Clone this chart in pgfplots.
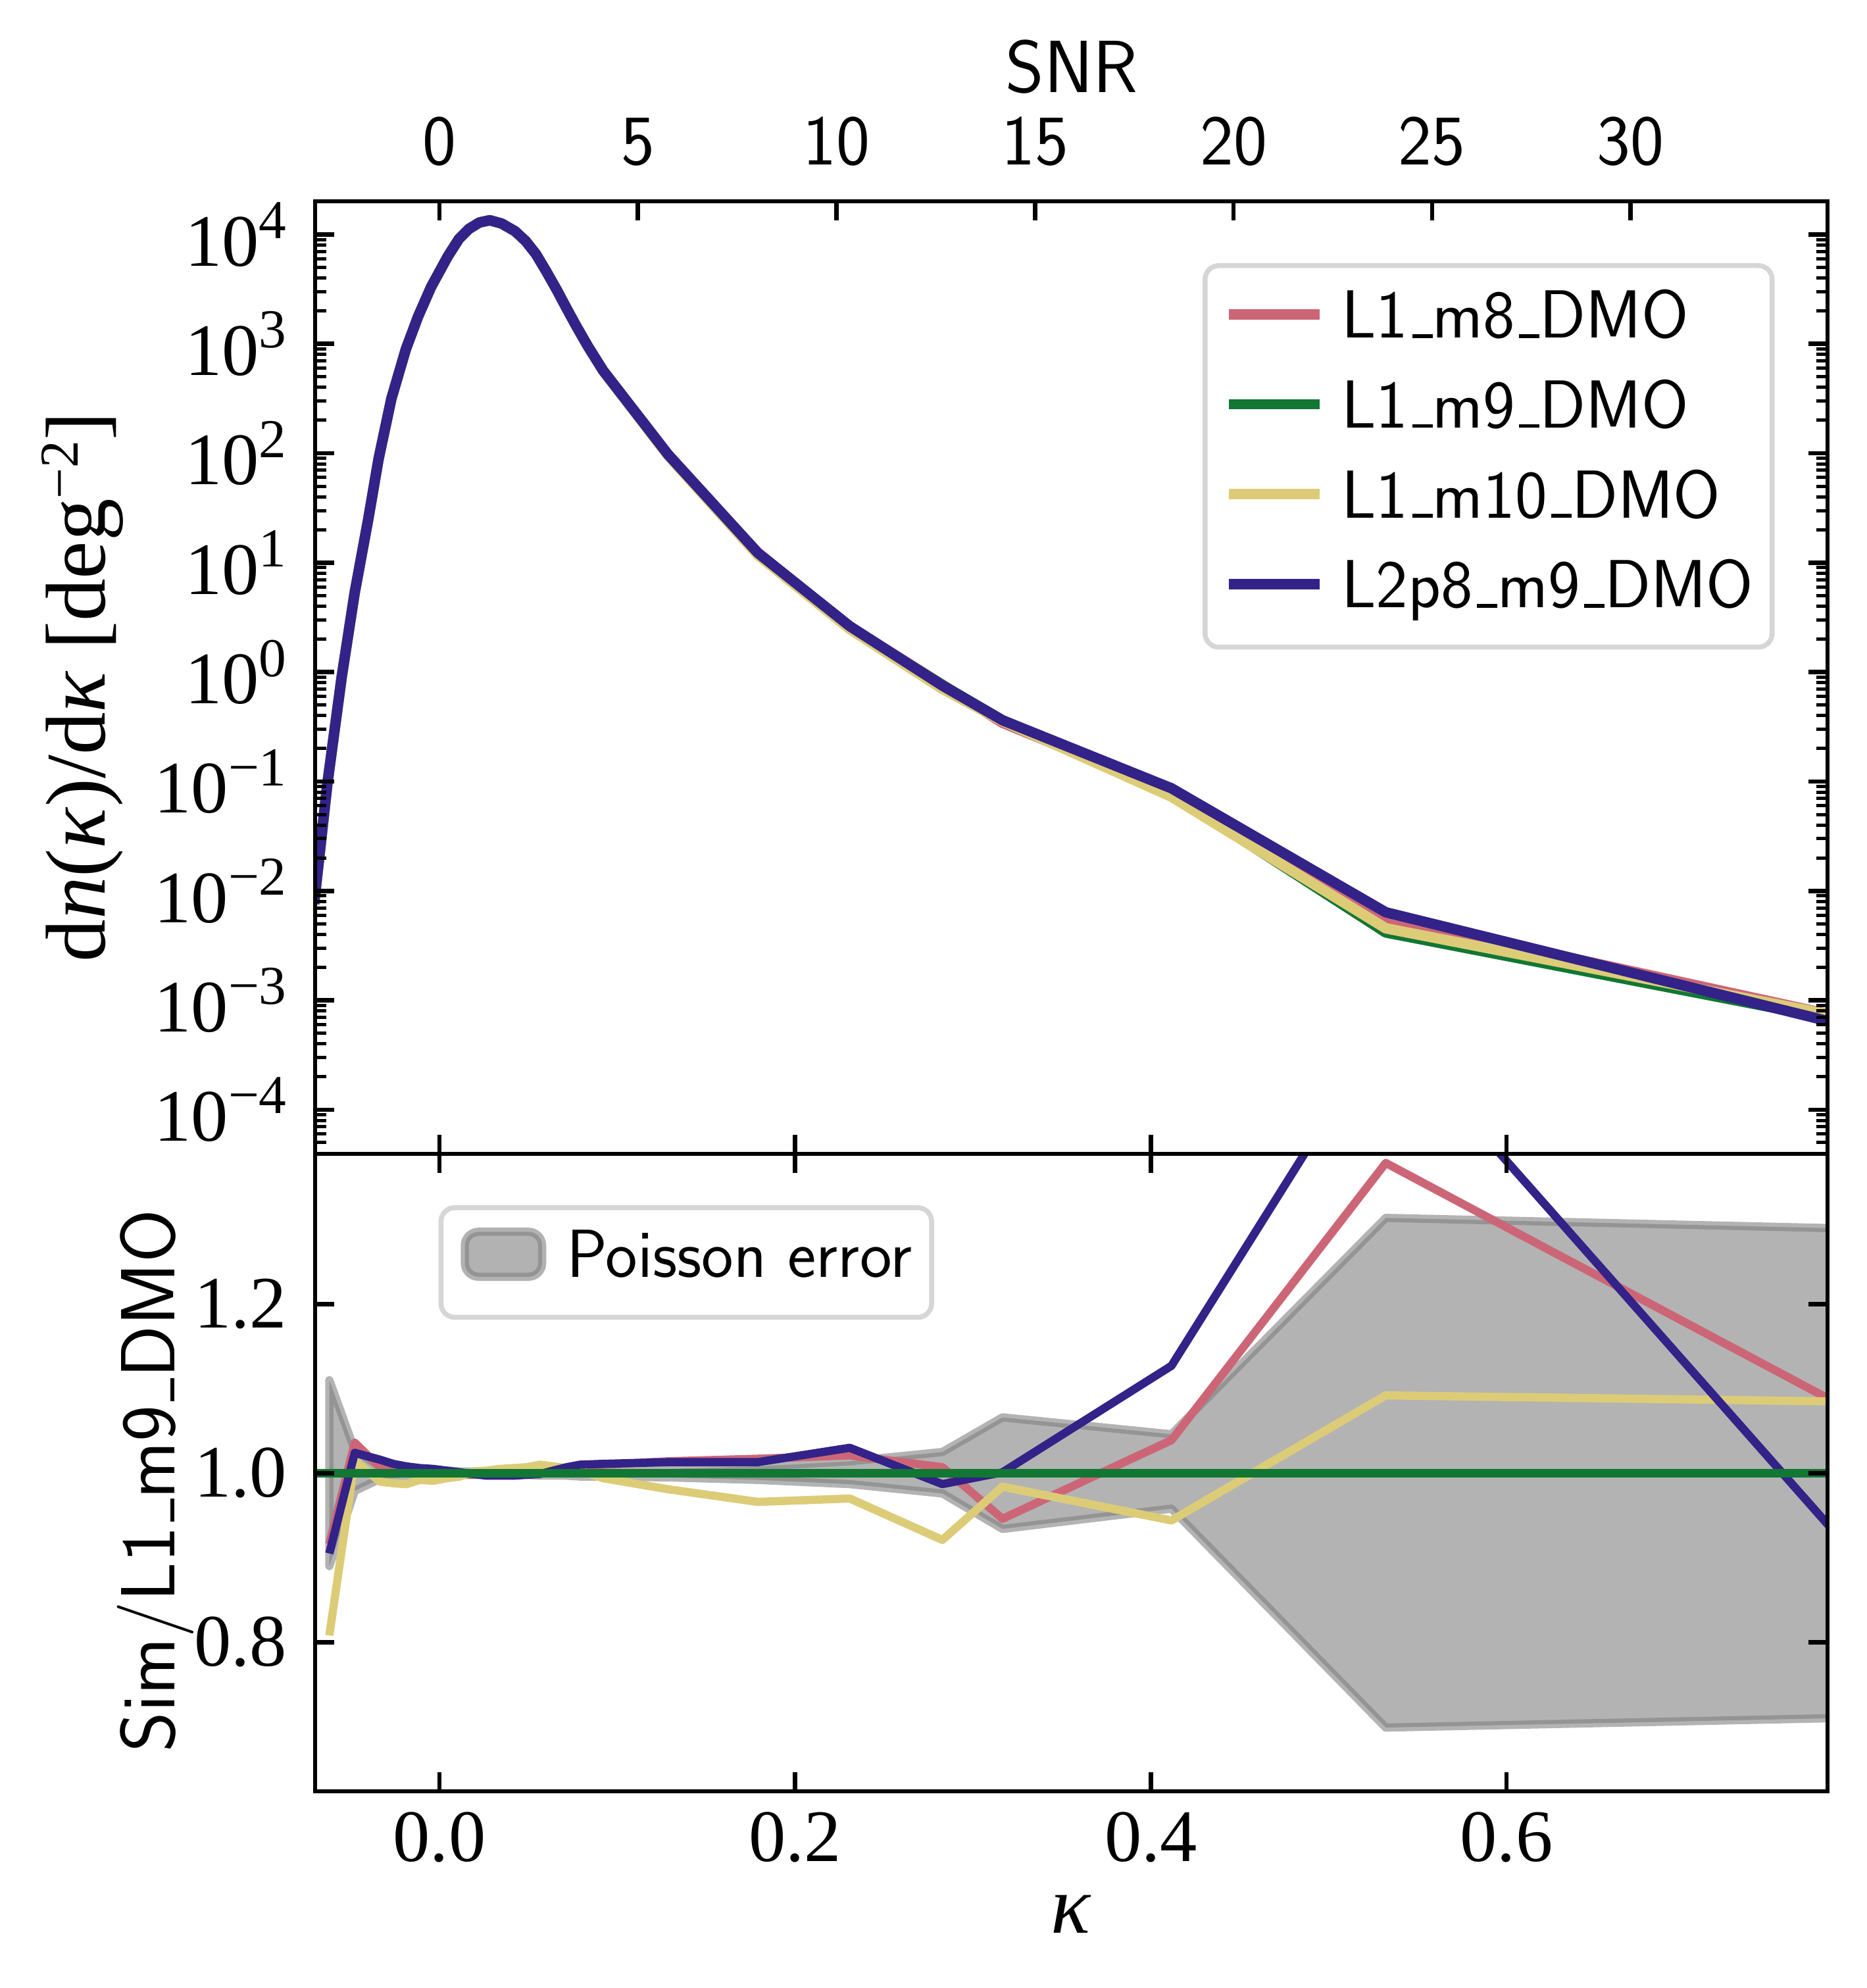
\documentclass[border=0pt]{standalone}
\usepackage{fontspec}
\setmainfont{Liberation Serif}
\setsansfont{lmsans17-regular.otf}
\usepackage{pgfplots}
\pgfplotsset{compat=1.18}
\definecolor{cRed}{HTML}{CC6677}
\definecolor{cGreen}{HTML}{117733}
\definecolor{cYellow}{HTML}{DDCC77}
\definecolor{cBlue}{HTML}{332288}
\newcommand\sups[1]{\raisebox{5pt}{\fontsize{10}{10}\selectfont #1}}
\newcommand\us{\leavevmode\kern.06em\vbox{\hrule width.3em height 0.7pt}}
\newcommand\tickfont{\fontsize{13.5}{14}\selectfont}
\pgfplotsset{
  base/.style={
    scale only axis, width=275.88pt, anchor=south west,
    xmin=-0.0699, xmax=0.7805, axis on top,
    tick align=inside, major tick length=3.5pt, minor tick length=2pt,
    every tick/.style={black, line width=0.8pt},
    every minor tick/.append style={line width=0.6pt},
    axis line style={line width=0.8pt},
    xtick={0,0.2,0.4,0.6},
    yticklabel style={font=\tickfont, anchor=east, inner sep=0pt, xshift=-5pt},
    xticklabel style={font=\tickfont, anchor=north, inner sep=0pt, yshift=-3.6pt},
    every axis plot/.append style={line join=round},
    legend cell align=left,
  },
  legbox/.style={
    draw=black!16, line width=0.9pt, rounded corners=2.5pt, fill=white,
  },
  bandlegend/.style={legend image code/.code={\draw[##1] (0.75pt,-2.6pt) rectangle (14.85pt,5.6pt); \path (18.6pt,0pt);}},
  linelegend/.style={legend image code/.code={\draw[##1] (0pt,1.3pt) -- (16.5pt,1.3pt); \path (19.6pt,0pt);}},
}
\begin{document}
\begin{tikzpicture}
\useasboundingbox (0,0) rectangle (340.56pt,362.64pt);
% ---------------- top panel ----------------
\begin{axis}[base, at={(57.48pt,152.16pt)}, height=173.76pt,
  ymode=log, ymin=3.95e-5, ymax=2.01e4,
  xtick pos=left, xticklabels={,,,},
  ytick pos=both, yticklabel pos=left,
  ytick={1e-4,1e-3,1e-2,1e-1,1,10,100,1000,10000},
  yticklabels={10\sups{−4},10\sups{−3},10\sups{−2},10\sups{−1},10\sups{0},10\sups{1},10\sups{2},10\sups{3},10\sups{4}},
  minor ytick={5e-5,6e-5,7e-5,8e-5,9e-5,2e-4,3e-4,4e-4,5e-4,6e-4,7e-4,8e-4,9e-4,2e-3,3e-3,4e-3,5e-3,6e-3,7e-3,8e-3,9e-3,0.02,0.03,0.04,0.05,0.06,0.07,0.08,0.09,0.2,0.3,0.4,0.5,0.6,0.7,0.8,0.9,2,3,4,5,6,7,8,9,20,30,40,50,60,70,80,90,200,300,400,500,600,700,800,900,2000,3000,4000,5000,6000,7000,8000,9000},
  ylabel={d\textit{n}(\textit{κ})/d\textit{κ} [deg\sups{−2}]},
  ylabel style={at={(axis description cs:-0.1388,0.49)}, anchor=base, font=\fontsize{15.5}{16}\selectfont},
  legend style={legbox, at={(axis description cs:0.5868,0.9351)}, anchor=north west,
    inner xsep=3.4pt, inner ysep=4.6pt, row sep=5.2pt,
    nodes={inner sep=0pt, text height=8.6pt, text depth=2.6pt},
    font=\sffamily\fontsize{12.4}{12.4}\selectfont},
  linelegend,
]
\addplot[cRed, line width=1.9pt] coordinates {
(-0.0705,7.6e-3) (-0.0630,0.0955) (-0.0550,0.891) (-0.0477,5.25) (-0.0400,25.1) (-0.0342,89.1) (-0.0270,316) (-0.0189,891) (-0.0120,1778) (-0.0047,3311) (0.0047,6310) (0.0110,9120) (0.0165,11220) (0.0225,12880) (0.0283,13490) (0.0350,12590) (0.0425,10720) (0.0485,8710) (0.0543,6607) (0.0600,4624) (0.0661,3090) (0.0715,2113) (0.0767,1479) (0.0834,955) (0.0920,571)
(0.1285,97.9) (0.1790,12.36) (0.2307,2.606) (0.2828,0.767) (0.3166,0.344) (0.4116,0.0800) (0.5321,5.70e-3) (0.7900,6.95e-4)};
\addlegendentry{L1\us m8\us DMO}
\addplot[cGreen, line width=1.9pt] coordinates {
(-0.0705,7.6e-3) (-0.0630,0.0955) (-0.0550,0.891) (-0.0477,5.25) (-0.0400,25.1) (-0.0342,89.1) (-0.0270,316) (-0.0189,891) (-0.0120,1778) (-0.0047,3311) (0.0047,6310) (0.0110,9120) (0.0165,11220) (0.0225,12880) (0.0283,13490) (0.0350,12590) (0.0425,10720) (0.0485,8710) (0.0543,6607) (0.0600,4624) (0.0661,3090) (0.0715,2113) (0.0767,1479) (0.0834,955) (0.0920,571)
(0.1285,96.8) (0.1790,12.16) (0.2307,2.553) (0.2828,0.762) (0.3166,0.363) (0.4116,0.0769) (0.5321,4.17e-3) (0.7900,6.41e-4)};
\addlegendentry{L1\us m9\us DMO}
\addplot[cYellow, line width=1.9pt] coordinates {
(-0.0705,7.6e-3) (-0.0630,0.0955) (-0.0550,0.891) (-0.0477,5.25) (-0.0400,25.1) (-0.0342,89.1) (-0.0270,316) (-0.0189,891) (-0.0120,1778) (-0.0047,3311) (0.0047,6310) (0.0110,9120) (0.0165,11220) (0.0225,12880) (0.0283,13490) (0.0350,12590) (0.0425,10720) (0.0485,8710) (0.0543,6607) (0.0600,4624) (0.0661,3090) (0.0715,2113) (0.0767,1479) (0.0834,950) (0.0920,567)
(0.1285,95.3) (0.1790,11.75) (0.2307,2.477) (0.2828,0.702) (0.3166,0.357) (0.4116,0.0726) (0.5321,4.55e-3) (0.7900,6.97e-4)};
\addlegendentry{L1\us m10\us DMO}
\addplot[cBlue, line width=1.9pt] coordinates {
(-0.0705,7.6e-3) (-0.0630,0.0955) (-0.0550,0.891) (-0.0477,5.25) (-0.0400,25.1) (-0.0342,89.1) (-0.0270,316) (-0.0189,891) (-0.0120,1778) (-0.0047,3311) (0.0047,6310) (0.0110,9120) (0.0165,11220) (0.0225,12880) (0.0283,13490) (0.0350,12590) (0.0425,10720) (0.0485,8710) (0.0543,6607) (0.0600,4624) (0.0661,3090) (0.0715,2113) (0.0767,1479) (0.0834,955) (0.0920,571)
(0.1285,97.7) (0.1790,12.30) (0.2307,2.63) (0.2828,0.752) (0.3166,0.363) (0.4116,0.0867) (0.5321,6.38e-3) (0.7900,5.93e-4)};
\addlegendentry{L2p8\us m9\us DMO}
\end{axis}
% ---------------- SNR axis ----------------
\begin{axis}[scale only axis, width=275.88pt, height=173.76pt, anchor=south west,
  at={(57.48pt,152.16pt)},
  xmin=-3.13, xmax=34.96, ymin=0, ymax=1,
  axis x line*=top, axis y line=none, ytick=\empty,
  tick align=inside, major tick length=3.5pt,
  every tick/.style={black, line width=0.8pt},
  axis line style={line width=0.8pt},
  xtick={0,5,10,15,20,25,30}, xticklabels={0,5,10,15,20,25,30},
  xticklabel style={font=\sffamily\fontsize{13}{13}\selectfont, anchor=south, inner sep=0pt, yshift=6.2pt},
  xlabel={SNR},
  xlabel style={at={(axis description cs:0.5003,1)}, anchor=base, yshift=19.9pt, font=\sffamily\fontsize{13.5}{14}\selectfont},
]
\end{axis}
% ---------------- ratio panel ----------------
\begin{axis}[base, at={(57.48pt,35.88pt)}, height=116.28pt,
  ymin=0.6236, ymax=1.3777,
  xtick pos=both, xticklabel pos=left,
  xticklabels={0.0,0.2,0.4,0.6},
  ytick={0.8,1.0,1.2}, yticklabels={0.8,1.0,1.2},
  ytick pos=both, yticklabel pos=left,
  xlabel={\textit{κ}},
  xlabel style={at={(axis description cs:0.4999,-0.1933)}, anchor=center, font=\fontsize{15}{15}\selectfont},
  ylabel={Sim/L1\us m9\us DMO},
  ylabel style={at={(axis description cs:-0.093,0.487)}, anchor=base, font=\sffamily\fontsize{14}{14}\selectfont},
  legend style={legbox, at={(axis description cs:0.0816,0.9195)}, anchor=north west,
    inner xsep=3.6pt, inner ysep=3.65pt,
    nodes={inner sep=0pt, text height=9.05pt, text depth=3.65pt},
    font=\sffamily\fontsize{12.4}{12.4}\selectfont},
  bandlegend,
]
\addplot[fill=gray, fill opacity=0.6, draw=gray, draw opacity=0.6, line width=1.5pt] coordinates {
(-0.0619,1.110) (-0.0476,1.027) (-0.0335,1.008) (-0.0260,1.006) (-0.0185,1.005) (-0.0110,1.004) (-0.0035,1.003) (0.0040,1.003) (0.0115,1.002) (0.0190,1.002) (0.0265,1.002) (0.0340,1.002) (0.0415,1.002) (0.0490,1.002) (0.0565,1.003) (0.0640,1.003) (0.0715,1.003) (0.0790,1.004) (0.0920,1.004) (0.1285,1.005) (0.1790,1.008) (0.2307,1.014) (0.2828,1.025) (0.3166,1.066) (0.4116,1.046) (0.5321,1.302) (0.7900,1.2895)
(0.7900,0.7104) (0.5321,0.699) (0.4116,0.958) (0.3166,0.934) (0.2828,0.976) (0.2307,0.987) (0.1790,0.992) (0.1285,0.995) (0.0920,0.996) (0.0790,0.996) (0.0715,0.997) (0.0640,0.997) (0.0565,0.997) (0.0490,0.998) (0.0415,0.998) (0.0340,0.998) (0.0265,0.998) (0.0190,0.998) (0.0115,0.998) (0.0040,0.997) (-0.0035,0.997) (-0.0110,0.996) (-0.0185,0.995) (-0.0260,0.994) (-0.0335,0.993) (-0.0476,0.979) (-0.0619,0.890)} -- cycle;
\addlegendentry{Poisson error}
\addplot[cRed, line width=1.5pt, forget plot] coordinates {
(-0.0619,0.916) (-0.0476,1.036) (-0.0335,1.007) (-0.0260,1.003) (-0.0185,1.001) (-0.0110,1.000) (-0.0035,0.999) (0.0040,0.999) (0.0115,0.998) (0.0190,0.998) (0.0265,0.998) (0.0340,0.999) (0.0415,1.000) (0.0490,1.001) (0.0565,1.002) (0.0640,1.004) (0.0715,1.006) (0.0790,1.008) (0.0920,1.010) (0.1285,1.014) (0.1790,1.017) (0.2307,1.021) (0.2828,1.007) (0.3166,0.946) (0.4116,1.039) (0.5321,1.367) (0.7900,1.078)};
\addplot[cYellow, line width=1.5pt, forget plot] coordinates {
(-0.0619,0.808) (-0.0476,1.015) (-0.0335,0.990) (-0.0260,0.988) (-0.0185,0.987) (-0.0110,0.992) (-0.0035,0.991) (0.0040,0.994) (0.0115,0.996) (0.0190,1.002) (0.0265,1.003) (0.0340,1.005) (0.0415,1.006) (0.0490,1.007) (0.0565,1.010) (0.0640,1.008) (0.0715,1.006) (0.0790,1.003) (0.0920,0.994) (0.1285,0.981) (0.1790,0.966) (0.2307,0.970) (0.2828,0.921) (0.3166,0.984) (0.4116,0.944) (0.5321,1.092) (0.7900,1.0847)};
\addplot[cBlue, line width=1.5pt, forget plot] coordinates {
(-0.0619,0.905) (-0.0476,1.024) (-0.0335,1.016) (-0.0260,1.011) (-0.0185,1.008) (-0.0110,1.006) (-0.0035,1.005) (0.0040,1.003) (0.0115,1.001) (0.0190,0.999) (0.0265,0.997) (0.0340,0.997) (0.0415,0.997) (0.0490,0.998) (0.0565,0.999) (0.0640,1.003) (0.0715,1.007) (0.0790,1.010) (0.0920,1.011) (0.1285,1.013) (0.1790,1.013) (0.2307,1.030) (0.2828,0.987) (0.3166,1.001) (0.4116,1.127) (0.5321,1.531) (0.7900,0.917)};
\addplot[cGreen, line width=1.5pt, forget plot] coordinates {(-0.0705,1.0) (0.7900,1.0)};
\end{axis}
\end{tikzpicture}
\end{document}
